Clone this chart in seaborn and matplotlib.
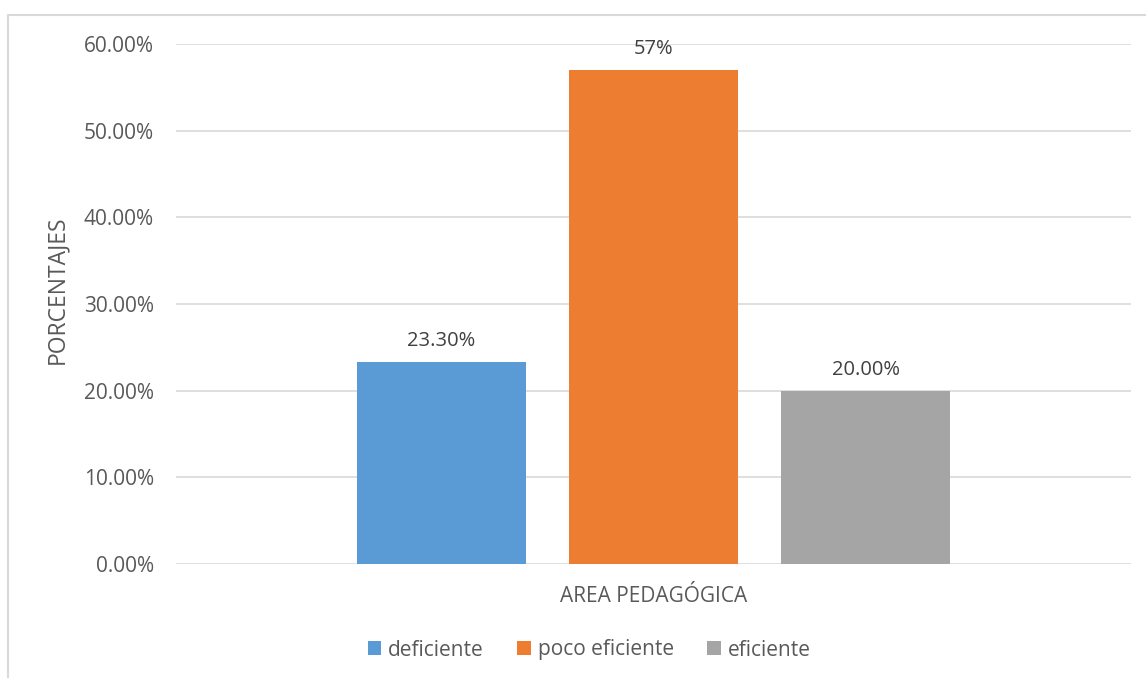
import matplotlib
matplotlib.use("Agg")
import matplotlib.pyplot as plt
from matplotlib.lines import Line2D
from matplotlib.patches import Patch
import seaborn as sns
import pandas as pd

# Chart data
categories = ["AREA PEDAGÓGICA"]
levels = ["deficiente", "poco eficiente", "eficiente"]
values = [0.233, 0.57, 0.20]
value_labels = ["23.30%", "57%", "20.00%"]
colors = ["#5B9BD5", "#ED7D31", "#A5A5A5"]
y_ticks = [0.0, 0.1, 0.2, 0.3, 0.4, 0.5, 0.6]

df = pd.DataFrame({
    "area": categories * len(levels),
    "nivel": levels,
    "valor": values,
})

sns.set_theme(style="white")
plt.rcParams["font.family"] = ["Open Sans", "DejaVu Sans"]
text_color = "#595959"
label_color = "#404040"
grid_color = "#D9D9D9"

fig = plt.figure(figsize=(11.46, 6.78), dpi=100)
ax = fig.add_axes([176 / 1146, 1 - 564 / 678, (1131 - 176) / 1146, (564 - 44) / 678])

sns.barplot(data=df, x="area", y="valor", hue="nivel", hue_order=levels,
            palette=colors, width=0.666, gap=0.207, saturation=1,
            linewidth=0, legend=False, ax=ax, zorder=3)

for container, lab in zip(ax.containers, value_labels):
    ax.bar_label(container, labels=[lab], padding=8, fontsize=14.5, color=label_color)

ax.set_ylim(0, 0.6)
ax.set_xlim(-0.5, 0.5)
ax.set_yticks(y_ticks)
ax.set_yticklabels([f"{t * 100:.2f}%" for t in y_ticks])
ax.yaxis.grid(True, color=grid_color, linewidth=1.2)
ax.set_axisbelow(True)
for s in ax.spines.values():
    s.set_visible(False)
ax.tick_params(axis="y", length=0, pad=16, labelsize=15, labelcolor=text_color)
ax.tick_params(axis="x", length=0, pad=16, labelsize=15, labelcolor=text_color)
ax.set_xlabel("")
ax.set_ylabel("PORCENTAJES", fontsize=16.5, color=text_color)
ax.yaxis.set_label_coords((57 - 176) / 955, (564 - 290) / 520)
ax.yaxis.label.set_verticalalignment("center")

# Legend below the plot area
handles = [Patch(facecolor=c, edgecolor="none", label=l) for c, l in zip(colors, levels)]
fig.legend(handles=handles, loc="center", bbox_to_anchor=(589 / 1146, 1 - 650 / 678),
           ncol=3, frameon=False, fontsize=15, labelcolor=text_color,
           handlelength=0.65, handleheight=0.65, handletextpad=0.33,
           columnspacing=1.6)

# Chart border (top and left edges)
border = "#D9D9D9"
fig.add_artist(Line2D([8 / 1146, 1.0], [1 - 15 / 678, 1 - 15 / 678],
                      transform=fig.transFigure, color=border, linewidth=1.5))
fig.add_artist(Line2D([8 / 1146, 8 / 1146], [0.0, 1 - 15 / 678],
                      transform=fig.transFigure, color=border, linewidth=1.5))

fig.savefig("out.png", dpi=100, facecolor="white")
